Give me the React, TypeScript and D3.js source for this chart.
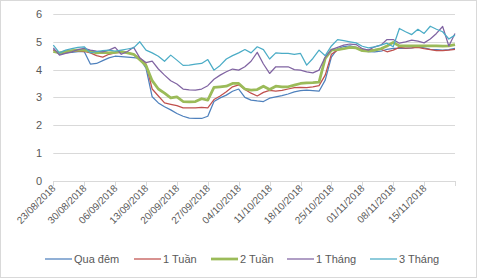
import React from "react";
import * as d3 from "d3";

const dateLabels = ["23/08/2018","30/08/2018","06/09/2018","13/09/2018","20/09/2018","27/09/2018","04/10/2018","11/10/2018","18/10/2018","25/10/2018","01/11/2018","08/11/2018","15/11/2018"];
const yTicks = [0, 1, 2, 3, 4, 5, 6];

const quaDem = [4.72,4.55,4.6,4.62,4.65,4.65,4.2,4.22,4.32,4.42,4.48,4.47,4.45,4.43,4.4,4.05,3.02,2.8,2.66,2.55,2.42,2.32,2.25,2.24,2.24,2.32,2.85,2.98,3.08,3.22,3.3,3.0,2.9,2.87,2.85,2.97,3.02,3.06,3.12,3.2,3.24,3.26,3.24,3.22,3.62,4.45,4.75,4.83,4.85,4.8,4.68,4.65,4.64,4.66,4.73,4.76,4.76,4.76,4.78,4.82,4.78,4.73,4.72,4.7,4.72,4.76];
const tuan1 = [4.7,4.6,4.62,4.65,4.67,4.65,4.6,4.5,4.45,4.55,4.6,4.62,4.6,4.55,4.42,4.2,3.3,3.05,2.8,2.75,2.7,2.62,2.62,2.62,2.64,2.62,2.92,3.05,3.2,3.38,3.45,3.28,3.15,3.05,3.18,3.25,3.22,3.25,3.3,3.35,3.36,3.35,3.38,3.42,3.8,4.55,4.7,4.75,4.78,4.8,4.72,4.7,4.72,4.73,4.64,4.7,4.8,4.77,4.78,4.8,4.75,4.72,4.68,4.68,4.7,4.73];
const tuan2 = [4.65,4.6,4.65,4.68,4.7,4.7,4.65,4.6,4.62,4.6,4.62,4.65,4.6,4.55,4.35,4.15,3.6,3.3,3.15,2.98,3.02,2.85,2.84,2.85,2.95,2.9,3.36,3.38,3.4,3.5,3.5,3.3,3.26,3.28,3.4,3.28,3.4,3.38,3.38,3.44,3.5,3.52,3.53,3.55,4.4,4.7,4.72,4.75,4.8,4.78,4.68,4.66,4.7,4.75,4.85,4.98,4.85,4.85,4.85,4.85,4.85,4.85,4.85,4.84,4.85,4.9];
const thang1 = [4.78,4.52,4.58,4.64,4.72,4.76,4.7,4.66,4.64,4.7,4.8,4.55,4.65,4.8,4.42,4.25,4.3,4.02,3.8,3.6,3.48,3.3,3.27,3.26,3.3,3.42,3.65,3.8,3.92,4.02,3.98,4.1,4.3,4.62,4.2,3.86,4.1,4.1,4.1,4.0,3.98,3.92,3.88,3.98,4.45,4.72,4.8,4.88,4.92,4.9,4.75,4.7,4.82,4.88,5.08,5.08,4.95,5.0,5.06,5.02,4.96,5.1,5.3,5.55,4.85,5.3];
const thang3 = [4.88,4.6,4.7,4.75,4.8,4.82,4.6,4.65,4.68,4.7,4.66,4.7,4.74,4.78,5.0,4.7,4.6,4.48,4.3,4.52,4.34,4.15,4.16,4.2,4.22,4.36,3.98,4.15,4.38,4.5,4.6,4.72,4.6,4.82,4.72,4.38,4.6,4.58,4.58,4.55,4.58,4.16,4.4,4.7,4.5,4.85,5.08,5.04,5.0,4.96,4.84,4.78,4.82,4.88,4.95,4.82,5.48,5.36,5.26,5.45,5.3,5.56,5.45,5.36,5.1,5.24];

const seriesNames = ["Qua đêm", "1 Tuần", "2 Tuần", "1 Tháng", "3 Tháng"];
const seriesData = [quaDem, tuan1, tuan2, thang1, thang3];
const colors = ["#4F81BD", "#C0504D", "#9BBB59", "#8064A2", "#4BACC6"];
const widths = [1.25, 1.25, 2.75, 1.25, 1.25];

const W = 478, H = 279;
const FONT = "'Liberation Sans', Arial, sans-serif";

export default function App() {
  const n = quaDem.length;
  const x = d3.scaleLinear().domain([0, n - 1]).range([53.3, 455]);
  const y = d3.scaleLinear().domain([0, 6]).range([180.7, 14]);
  const line = d3.line<number>().x((_, i) => x(i)).y((d) => y(d));
  const tickIdx = d3.range(0, n, 5);

  const legendX = [45, 134, 211, 287, 370];

  return (
    <svg width={W} height={H} style={{ position: "absolute", left: 0, top: 0 }} fontFamily={FONT}>
      <rect x={0} y={0} width={W} height={H} fill="#fff" />
      <rect x={0.5} y={0.5} width={476} height={277} fill="none" stroke="#D9D9D9" />
      {yTicks.map((t) => (
        <g key={t}>
          <line x1={53.3} x2={455} y1={Math.round(y(t)) + 0.5} y2={Math.round(y(t)) + 0.5} stroke="#D9D9D9" />
          <text x={42} y={y(t) + 4} textAnchor="end" fontSize={11} fill="#595959">{t}</text>
        </g>
      ))}
      {tickIdx.map((i) => (
        <line key={i} x1={Math.round(x(i)) + 0.5} x2={Math.round(x(i)) + 0.5} y1={181} y2={186} stroke="#D9D9D9" />
      ))}
      {dateLabels.map((lab, k) => (
        <text key={lab} transform={`translate(${x(k * 5) + 3},${189}) rotate(-45)`} textAnchor="end" fontSize={10} fill="#595959">{lab}</text>
      ))}
      {seriesData.map((s, k) => (
        <path key={k} d={line(s) || ""} fill="none" stroke={colors[k]} strokeWidth={widths[k]} strokeLinejoin="round" />
      ))}
      {seriesNames.map((name, k) => (
        <g key={name}>
          <line x1={legendX[k]} x2={legendX[k] + 27} y1={259} y2={259} stroke={colors[k]} strokeWidth={widths[k]} />
          <text x={legendX[k] + 29} y={263} fontSize={11} fill="#595959">{name}</text>
        </g>
      ))}
    </svg>
  );
}
